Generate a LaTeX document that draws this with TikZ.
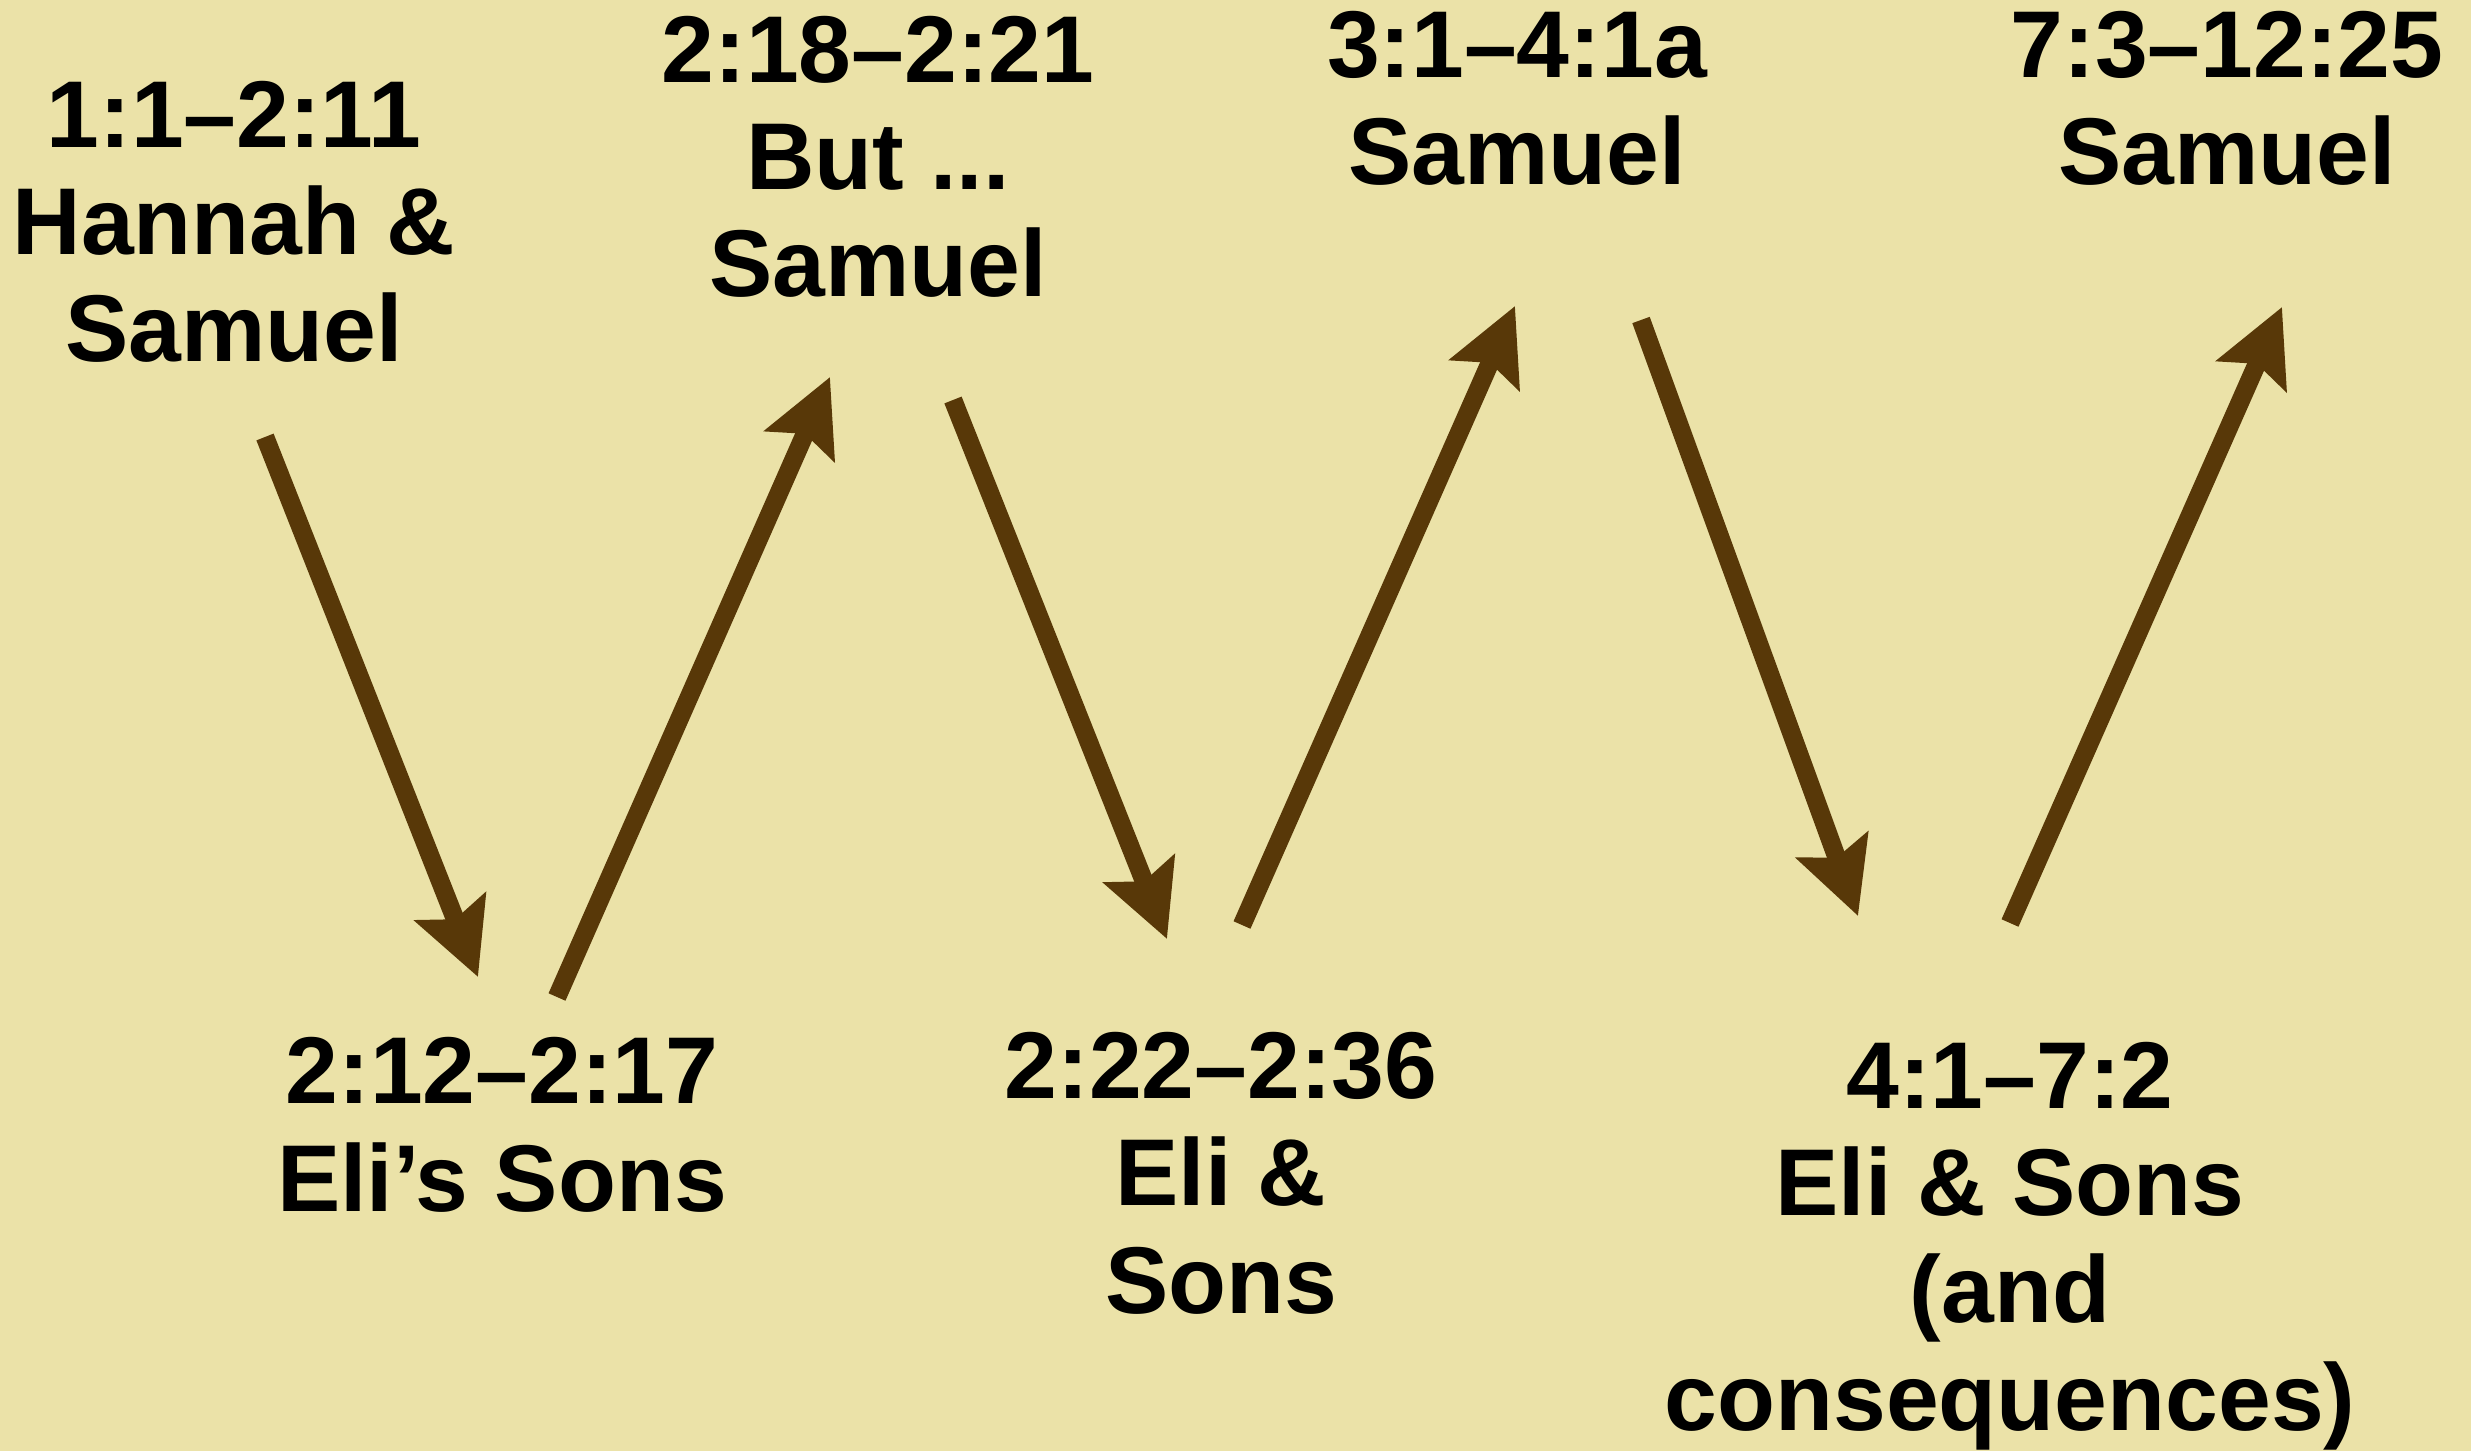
\documentclass[tikz,border=0pt]{standalone}
\usepackage{fontspec}
\setmainfont{Liberation Sans}
\usetikzlibrary{arrows.meta}
\definecolor{parchment}{RGB}{235,226,168}
\definecolor{arrowbrown}{RGB}{88,56,8}
\tikzset{
	passage/.style={align=center, anchor=base, inner sep=0pt, font=\bfseries\fontsize{27}{30.45}\selectfont},
	swing/.style={draw=arrowbrown, line width=0.185cm, -{Stealth[length=0.75cm, width=0.75cm, inset=0.13cm]}}
}
\begin{document}
\begin{tikzpicture}
				\useasboundingbox (0,0) rectangle (24.71,14.51);
				\fill[parchment] (0,0) rectangle (24.71,14.51);
				
				\node[passage] (hannah) at (2.34,10.89) {1:1–2:11\\Hannah \&\\Samuel};
				\node[passage] (but) at (8.78,11.54) {2:18–2:21\\But ...\\Samuel};
				\node[passage] (call) at (15.17,12.66) {3:1–4:1a\\Samuel};
				\node[passage] (judge) at (22.27,12.66) {7:3–12:25\\Samuel};
				
				\node[passage] (sons) at (5.02,2.40) {2:12–2:17\\Eli’s Sons};
				\node[passage] (eli) at (12.21,1.38) {2:22–2:36\\Eli \&\\Sons};
				\node[passage] (ark) at (20.10,0.21) {4:1–7:2\\Eli \& Sons\\(and\\consequences)};
				
				\coordinate (t1) at (2.65,10.14);
				\coordinate (h1) at (4.78,4.74);
				\coordinate (t2) at (5.57,4.54);
				\coordinate (h2) at (8.30,10.74);
				\coordinate (t3) at (9.53,10.51);
				\coordinate (h3) at (11.67,5.12);
				\coordinate (t4) at (12.42,5.26);
				\coordinate (h4) at (15.15,11.45);
				\coordinate (t5) at (16.41,11.31);
				\coordinate (h5) at (18.58,5.35);
				\coordinate (t6) at (20.10,5.28);
				\coordinate (h6) at (22.82,11.44);
				
				\draw[swing] (t1) -- (h1);
				\draw[swing] (t2) -- (h2);
				\draw[swing] (t3) -- (h3);
				\draw[swing] (t4) -- (h4);
				\draw[swing] (t5) -- (h5);
				\draw[swing] (t6) -- (h6);
			\end{tikzpicture}
\end{document}
